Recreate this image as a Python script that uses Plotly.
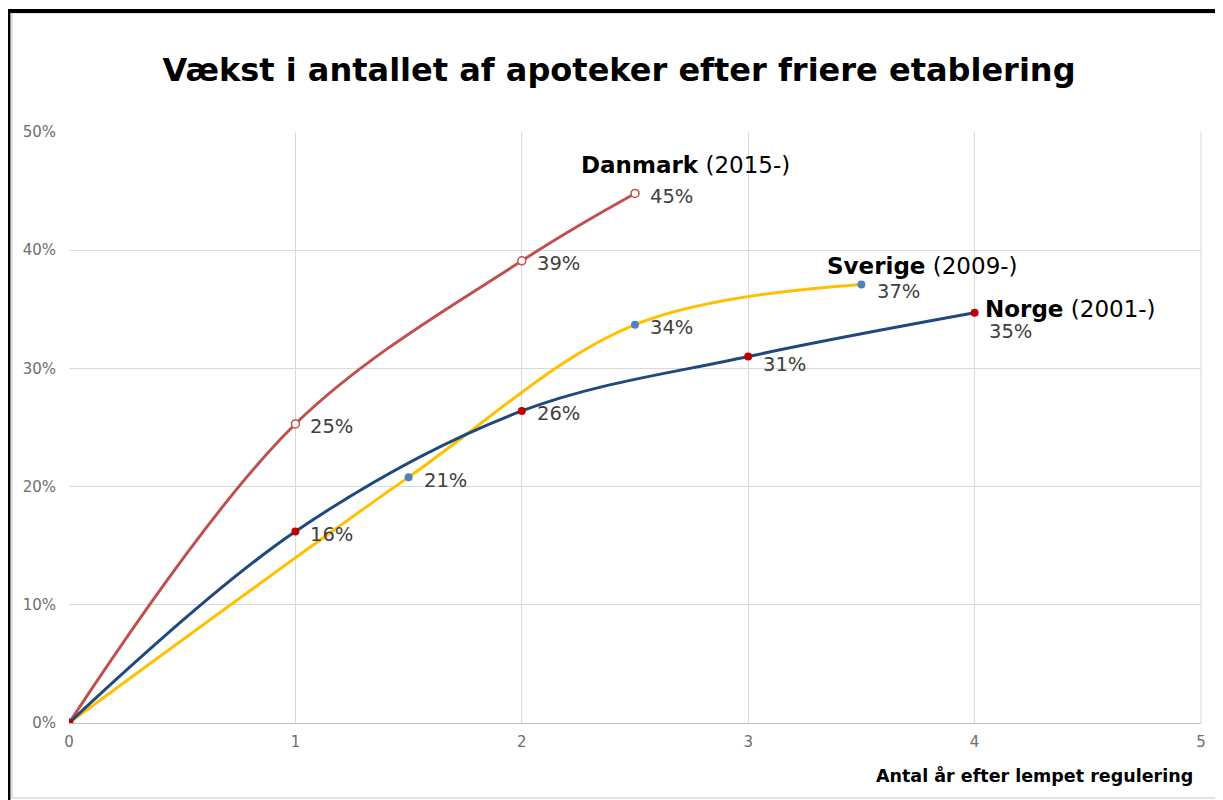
import plotly.graph_objects as go

# data (years after deregulation, growth in pharmacies)
dk_x = [0, 1, 2, 2.5]
dk_y = [0, 0.253, 0.391, 0.448]
se_x = [0, 1.5, 2.5, 3.5]
se_y = [0, 0.208, 0.337, 0.371]
no_x = [0, 1, 2, 3, 4]
no_y = [0, 0.162, 0.264, 0.310, 0.347]

series = [
    dict(name='Danmark', period='(2015-)', x=dk_x, y=dk_y, line='#C0504D',
         marker=dict(color='white', size=8, line=dict(color='#C0504D', width=1.5)),
         label_shift=(50, 28, 'center'), pct_shift=[(13, -3)] * 3),
    dict(name='Sverige', period='(2009-)', x=se_x, y=se_y, line='#FFC000',
         marker=dict(color='#4F81BD', size=8),
         label_shift=(61, 18, 'center'), pct_shift=[(13, -3), (13, -3), (14, -7)]),
    dict(name='Norge', period='(2001-)', x=no_x, y=no_y, line='#1F497D',
         marker=dict(color='#C00000', size=8),
         label_shift=(8, 4, 'left'), pct_shift=[(13, -3), (13, -3), (13, -8), (12, -19)]),
]

font = 'DejaVu Sans, Verdana, sans-serif'
fig = go.Figure()
annotations = []

for s in series:
    fig.add_trace(go.Scatter(
        x=s['x'], y=s['y'], mode='lines+markers', name=s['name'],
        line=dict(color=s['line'], width=3, shape='spline', smoothing=1),
        marker=s['marker'], showlegend=False, hoverinfo='skip'))
    # percent labels for every point except the origin
    for (xv, yv), (dx, dy) in zip(list(zip(s['x'], s['y']))[1:], s['pct_shift']):
        annotations.append(dict(
            x=xv, y=yv, xref='x', yref='y', text=f'{yv:.0%}', showarrow=False,
            xanchor='left', yanchor='middle', xshift=dx, yshift=dy,
            font=dict(family=font, size=19.5, color='#404040')))
    dx, dy, anchor = s['label_shift']
    annotations.append(dict(
        x=s['x'][-1], y=s['y'][-1], xref='x', yref='y',
        text=f"<b>{s['name']}</b> {s['period']}", showarrow=False,
        xanchor=anchor, yanchor='middle', xshift=dx, yshift=dy,
        font=dict(family=font, size=23, color='black')))

annotations.append(dict(
    x=0.9947, y=-0.088, xref='paper', yref='paper', text='<b>Antal år efter lempet regulering</b>',
    showarrow=False, xanchor='right', yanchor='middle',
    font=dict(family=font, size=17.5, color='black')))

# frame: light grey chart border plus the heavy black page edge at top/left
shapes = [
    dict(type='rect', xref='paper', yref='paper', x0=-0.0504, x1=1.0168, y0=-0.1269, y1=1.2014,
         line=dict(color='#D9D9D9', width=1.5), layer='below'),
    dict(type='line', xref='paper', yref='paper', x0=-0.0570, x1=1.03, y0=1.2047, y1=1.2047,
         line=dict(color='black', width=4)),
    dict(type='line', xref='paper', yref='paper', x0=-0.0535, x1=-0.0535, y0=-0.14, y1=1.2047,
         line=dict(color='black', width=4)),
    # right edge of plot area shows as a grid line at x=5
    dict(type='line', xref='paper', yref='paper', x0=1, x1=1, y0=0, y1=1,
         line=dict(color='#D9D9D9', width=1), layer='below'),
]

# page is offset by 8px, so the figure is 8px smaller to fit the window
fig.update_layout(
    width=1215, height=792,
    margin=dict(l=61, r=22, t=124, b=77),
    paper_bgcolor='white', plot_bgcolor='white',
    title=dict(text='<b>Vækst i antallet af apoteker efter friere etablering</b>',
               x=(619 - 8) / 1215, xanchor='center', y=1 - (70 - 8) / 792, yanchor='middle',
               font=dict(family=font, size=32, color='black')),
    annotations=annotations, shapes=shapes,
)
fig.update_xaxes(range=[0, 5], dtick=1, showgrid=True, gridcolor='#D9D9D9', gridwidth=1,
                 zeroline=False, showline=True, linecolor='#BFBFBF', mirror=False,
                 tickfont=dict(family=font, size=15, color='#6E6E6E'), ticklabelstandoff=5)
fig.update_yaxes(range=[0, 0.5], dtick=0.1, tickformat='.0%', showgrid=True, gridcolor='#D9D9D9',
                 gridwidth=1, zeroline=False, showline=False,
                 tickfont=dict(family=font, size=15, color='#6E6E6E'), ticklabelstandoff=12)

fig.write_html('out.html')
